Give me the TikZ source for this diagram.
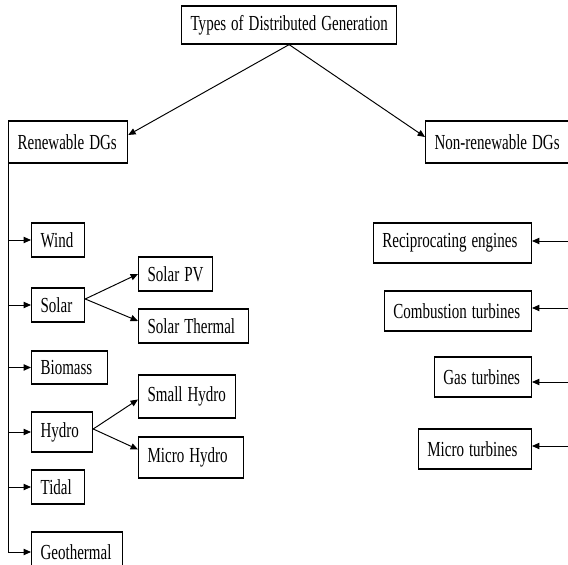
\documentclass[tikz,border=0pt]{standalone}
\usepackage{fontspec}
\setmainfont{Liberation Serif}
\usetikzlibrary{arrows.meta}
\newsavebox{\dgtext}
\tikzset{
  dgbox/.style={draw,line width=0.7pt,anchor=west,inner xsep=0.18cm,inner ysep=0pt,align=left,
    minimum height=0.68cm,font=\fontsize{12.2pt}{13pt}\selectfont,
    execute at begin node={\setbox\dgtext=\hbox\bgroup},
    execute at end node={\egroup\noindent\scalebox{0.70}[1]{\usebox\dgtext}}},
  link/.style={line width=0.55pt,-{Triangle[length=4.2pt,width=3.6pt]}}
}

\begin{document}
\begin{tikzpicture}
\useasboundingbox (0,0) rectangle (11.36,-11.30);
\node[dgbox,text width=3.94cm,minimum height=0.76cm] (title) at (3.62,-0.50) {Types of Distributed Generation};
\node[dgbox,text width=2.02cm,minimum height=0.84cm] (ren) at (0.16,-2.84) {Renewable DGs};
\node[dgbox,text width=2.64cm,minimum height=0.84cm] (non) at (8.50,-2.84) {Non-renewable DGs};
\draw[link] (title.south) -- ([yshift=0.14cm]ren.east);
\draw[link] (title.south) -- ([yshift=0.10cm]non.west);

\node[dgbox,text width=0.70cm] (wind) at (0.62,-4.80) {Wind};
\node[dgbox,text width=0.70cm] (solar) at (0.62,-6.10) {Solar};
\node[dgbox,text width=1.16cm,minimum height=0.66cm] (bio) at (0.62,-7.35) {Biomass};
\node[dgbox,text width=0.86cm,minimum height=0.80cm] (hydro) at (0.62,-8.64) {Hydro};
\node[dgbox,text width=0.70cm] (tidal) at (0.62,-9.74) {Tidal};
\node[dgbox,text width=1.46cm,minimum height=0.80cm] (geo) at (0.62,-11.04) {Geothermal};
\foreach \n in {wind,solar,bio,hydro,tidal,geo}
  \draw[link] (ren.south west) |- (\n);

\node[dgbox,text width=1.12cm] (spv) at (2.76,-5.48) {Solar PV};
\node[dgbox,text width=1.84cm] (sth) at (2.76,-6.52) {Solar Thermal};
\node[dgbox,text width=1.58cm,minimum height=0.86cm] (shy) at (2.76,-7.93) {Small Hydro};
\node[dgbox,text width=1.74cm,minimum height=0.82cm] (mhy) at (2.76,-9.15) {Micro Hydro};
\draw[link] ([yshift=0.12cm]solar.east) -- (spv.west);
\draw[link] ([yshift=0.12cm]solar.east) -- ([yshift=0.10cm]sth.west);
\draw[link] ([yshift=0.06cm]hydro.east) -- ([yshift=-0.06cm]shy.west);
\draw[link] ([yshift=0.06cm]hydro.east) -- ([yshift=0.16cm]mhy.west);

\node[dgbox,anchor=east,text width=2.80cm,minimum height=0.80cm] (rec) at (10.64,-4.86) {Reciprocating engines};
\node[dgbox,anchor=east,text width=2.58cm,minimum height=0.80cm] (comb) at (10.64,-6.22) {Combustion turbines};
\node[dgbox,anchor=east,text width=1.58cm,minimum height=0.80cm] (gas) at (10.64,-7.54) {Gas turbines};
\node[dgbox,anchor=east,text width=1.90cm,minimum height=0.80cm] (mic) at (10.64,-8.98) {Micro turbines};
\coordinate (r1) at (11.50,-4.82);
\coordinate (r2) at (11.50,-6.16);
\coordinate (r3) at (11.50,-7.64);
\coordinate (r4) at (11.50,-8.92);
\draw[link] (r1) -- (r1 -| rec.east);
\draw[link] (r2) -- (r2 -| comb.east);
\draw[link] (r3) -- (r3 -| gas.east);
\draw[link] (r4) -- (r4 -| mic.east);
\end{tikzpicture}
\end{document}
